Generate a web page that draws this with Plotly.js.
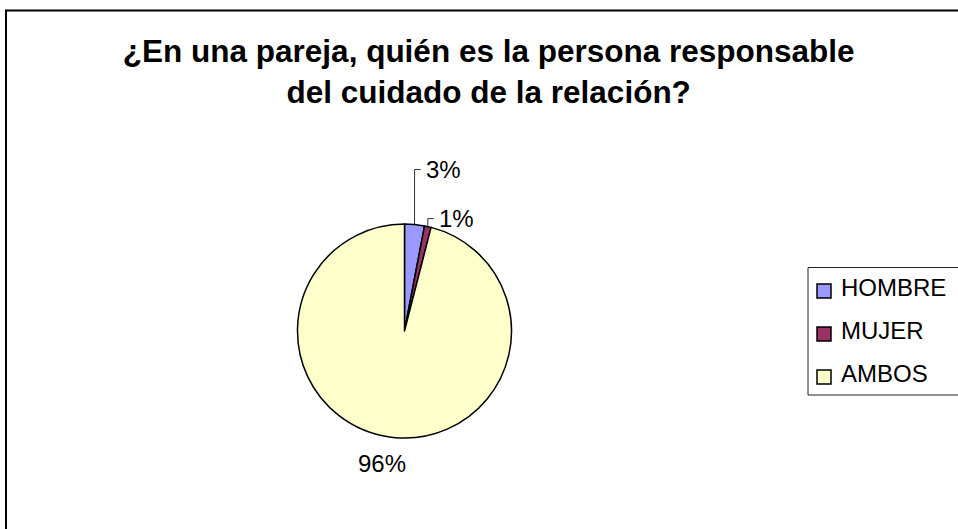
<!DOCTYPE html>
<html>
<head>
<meta charset="utf-8">
<script src="https://cdn.plot.ly/plotly-3.0.1.min.js"></script>
<style>
  html, body { margin: 0; padding: 0; background: #ffffff; }
  #chart { width: 958px; height: 529px; }
</style>
</head>
<body>
<div id="chart"></div>
<script>
// ---- data ----
const categories = ['HOMBRE', 'MUJER', 'AMBOS'];
const values = [3, 1, 96];
const sliceColors = ['#9999FF', '#993366', '#FFFFCC'];
const titleLines = ['¿En una pareja, quién es la persona responsable', 'del cuidado de la relación?'];

// ---- layout constants (pixels) ----
const W = 958, H = 529;
const CX = 404.5, CY = 331, R = 107;
const FONT = 'Liberation Sans, Arial, Helvetica, sans-serif';
// vertical lift of leader lines for the small slices (null = plain outside label)
const labelLift = [55, 8, null];

const px = x => x / W;
const py = y => 1 - y / H;

const total = values.reduce((a, b) => a + b, 0);
const shapes = [];
const annotations = [];

// frame
shapes.push({type: 'rect', xref: 'paper', yref: 'paper',
  x0: px(6), x1: 1.05, y0: -0.05, y1: py(10.5),
  line: {color: '#000', width: 2}, fillcolor: 'rgba(0,0,0,0)'});

// percentage labels computed from slice angles
let cum = 0;
values.forEach((v, i) => {
  const mid = (cum + v / 2) / total * 2 * Math.PI;   // clockwise from 12 o'clock
  cum += v;
  const pct = Math.round(v / total * 100) + '%';
  const sx = CX + R * Math.sin(mid), sy = CY - R * Math.cos(mid);
  if (labelLift[i] !== null) {
    const yL = sy - labelLift[i];
    shapes.push({type: 'path', xref: 'paper', yref: 'paper',
      path: `M${px(sx)},${py(sy)} L${px(sx)},${py(yL)} L${px(sx + 6)},${py(yL)}`,
      line: {color: '#333', width: 1}});
    annotations.push({xref: 'paper', yref: 'paper', x: px(sx + 9), y: py(yL),
      xanchor: 'left', yanchor: 'middle', showarrow: false, text: pct,
      font: {family: FONT, size: 24, color: '#000'}});
  } else {
    const d = R * 1.25;
    annotations.push({xref: 'paper', yref: 'paper',
      x: px(CX + d * Math.sin(mid) - 6), y: py(CY - d * Math.cos(mid)),
      xanchor: 'center', yanchor: 'middle', showarrow: false, text: pct,
      font: {family: FONT, size: 24, color: '#000'}});
  }
});

// legend (drawn manually to match the spacing of the original)
const LEG_X = 808, LEG_TOP = 267.5, LEG_BOT = 395, ROW0 = 296, ROW_GAP = 43;
shapes.push({type: 'rect', xref: 'paper', yref: 'paper',
  x0: px(LEG_X), x1: 1.05, y0: py(LEG_BOT), y1: py(LEG_TOP),
  line: {color: '#222', width: 1}, fillcolor: '#ffffff'});
categories.forEach((c, i) => {
  const base = ROW0 + i * ROW_GAP;
  shapes.push({type: 'rect', xref: 'paper', yref: 'paper',
    x0: px(817), x1: px(831), y0: py(base + 2), y1: py(base - 12),
    line: {color: '#000', width: 1.5}, fillcolor: sliceColors[i]});
  annotations.push({xref: 'paper', yref: 'paper', x: px(839), y: py(base - 8.5),
    xanchor: 'left', yanchor: 'middle', showarrow: false, text: c,
    font: {family: FONT, size: 24, color: '#000'}});
});

const trace = {
  type: 'pie',
  labels: categories,
  values: values,
  sort: false,
  direction: 'clockwise',
  rotation: 0,
  textinfo: 'none',
  hoverinfo: 'label+percent',
  marker: {colors: sliceColors, line: {color: '#000', width: 1.5}},
  domain: {x: [px(CX - R), px(CX + R)], y: [py(CY + R), py(CY - R)]},
  showlegend: false
};

const layout = {
  width: W, height: H,
  margin: {l: 0, r: 0, t: 0, b: 0},
  paper_bgcolor: '#ffffff',
  plot_bgcolor: '#ffffff',
  showlegend: false,
  title: {
    text: titleLines.join('<br>'),
    font: {family: FONT, size: 31.5, color: '#000', weight: 'bold'},
    xref: 'paper', yref: 'container',
    x: px(488.7), xanchor: 'center',
    y: py(62), yanchor: 'top'
  },
  shapes: shapes,
  annotations: annotations
};

Plotly.newPlot('chart', [trace], layout, {displayModeBar: false, staticPlot: true});
</script>
</body>
</html>
